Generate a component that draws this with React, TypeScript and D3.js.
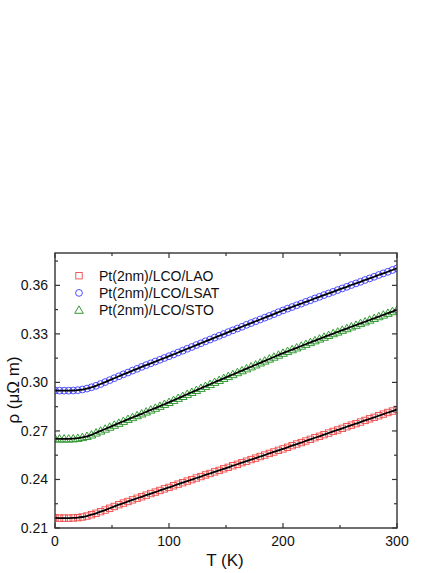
import React from "react";
import * as d3 from "d3";

// temperature grid (K)
const temps = [
  0, 4, 8, 12, 16, 20, 24, 28, 32, 36, 40, 44, 48, 52, 56, 60, 64, 68, 72, 76,
  80, 84, 88, 92, 96, 100, 104, 108, 112, 116, 120, 124, 128, 132, 136, 140,
  144, 148, 152, 156, 160, 164, 168, 172, 176, 180, 184, 188, 192, 196, 200,
  204, 208, 212, 216, 220, 224, 228, 232, 236, 240, 244, 248, 252, 256, 260,
  264, 268, 272, 276, 280, 284, 288, 292, 296, 300,
];

// resistivity (µΩ m)
const rhoLAO = [
  0.2162, 0.2161, 0.2161, 0.2161, 0.2162, 0.2164, 0.2168, 0.2174, 0.2182, 0.2191,
  0.2201, 0.2211, 0.2222, 0.2233, 0.2244, 0.2254, 0.2264, 0.2274, 0.2284, 0.2293,
  0.2303, 0.2313, 0.2322, 0.2332, 0.2342, 0.2351, 0.2361, 0.2371, 0.238, 0.239,
  0.2399, 0.2409, 0.2418, 0.2428, 0.2437, 0.2447, 0.2456, 0.2466, 0.2475, 0.2485,
  0.2494, 0.2504, 0.2513, 0.2523, 0.2532, 0.2542, 0.2551, 0.2561, 0.257, 0.258,
  0.2589, 0.2599, 0.2609, 0.2619, 0.2628, 0.2638, 0.2648, 0.2658, 0.2667, 0.2677,
  0.2687, 0.2697, 0.2706, 0.2716, 0.2726, 0.2736, 0.2745, 0.2755, 0.2765, 0.2775,
  0.2784, 0.2794, 0.2804, 0.2814, 0.2823, 0.2833,
];

const rhoLSAT = [
  0.295, 0.2949, 0.2949, 0.2949, 0.295, 0.2952, 0.2956, 0.2962, 0.297, 0.2979,
  0.299, 0.3002, 0.3014, 0.3026, 0.3038, 0.305, 0.3061, 0.3073, 0.3084, 0.3096,
  0.3107, 0.3118, 0.3129, 0.314, 0.3151, 0.3162, 0.3173, 0.3185, 0.3196, 0.3208,
  0.3219, 0.3231, 0.3242, 0.3254, 0.3265, 0.3277, 0.3288, 0.3299, 0.3311, 0.3322,
  0.3333, 0.3344, 0.3356, 0.3367, 0.3378, 0.3389, 0.34, 0.3411, 0.3422, 0.3434,
  0.3445, 0.3456, 0.3466, 0.3477, 0.3487, 0.3498, 0.3508, 0.3519, 0.3529, 0.354,
  0.355, 0.356, 0.3571, 0.3581, 0.3591, 0.3602, 0.3612, 0.3622, 0.3633, 0.3643,
  0.3653, 0.3664, 0.3674, 0.3684, 0.3695, 0.3705,
];

const rhoSTO = [
  0.2652, 0.2651, 0.2651, 0.2651, 0.2652, 0.2655, 0.266, 0.2667, 0.2676, 0.2688,
  0.27, 0.2712, 0.2724, 0.2736, 0.2748, 0.276, 0.2772, 0.2783, 0.2795, 0.2806,
  0.2818, 0.283, 0.2841, 0.2853, 0.2865, 0.2877, 0.2889, 0.2902, 0.2914, 0.2927,
  0.2939, 0.2951, 0.2964, 0.2976, 0.2988, 0.3001, 0.3013, 0.3025, 0.3037, 0.3049,
  0.3061, 0.3073, 0.3085, 0.3097, 0.3109, 0.3121, 0.3133, 0.3145, 0.3157, 0.3169,
  0.3181, 0.3192, 0.3203, 0.3214, 0.3225, 0.3236, 0.3247, 0.3258, 0.3269, 0.328,
  0.3291, 0.3302, 0.3312, 0.3323, 0.3333, 0.3344, 0.3354, 0.3365, 0.3375, 0.3386,
  0.3396, 0.3407, 0.3417, 0.3428, 0.3438, 0.3449,
];

const seriesNames = ["Pt(2nm)/LCO/LAO", "Pt(2nm)/LCO/LSAT", "Pt(2nm)/LCO/STO"];
const seriesColors = ["#f04848", "#3a3aff", "#1f8f1f"];
const seriesShapes = ["square", "circle", "triangle"];
const seriesValues = [rhoLAO, rhoLSAT, rhoSTO];

const xMajor = [0, 100, 200, 300];
const xMinor = [50, 150, 250];
const yMajor = [0.21, 0.24, 0.27, 0.3, 0.33, 0.36];
const yMinor = [0.225, 0.255, 0.285, 0.315, 0.345, 0.375];

const W = 443;
const H = 573;
const left = 55;
const right = 397;
const top = 253;
const bottom = 528;
const font = "'Liberation Sans', Arial, sans-serif";

const x = d3.scaleLinear().domain([0, 300]).range([left, right]);
const y = d3.scaleLinear().domain([0.21, 0.38]).range([bottom, top]);

const Marker = ({ shape, cx, cy, color }) => {
  if (shape === "square")
    return (
      <rect x={cx - 3.2} y={cy - 3.2} width={6.4} height={6.4} fill="none" stroke={color} strokeWidth={0.9} />
    );
  if (shape === "circle")
    return <circle cx={cx} cy={cy} r={3.4} fill="none" stroke={color} strokeWidth={0.9} />;
  const s = d3.symbol(d3.symbolTriangle, 32)();
  return <path d={s} transform={`translate(${cx},${cy + 0.7})`} fill="none" stroke={color} strokeWidth={0.9} />;
};

export default function App() {
  const line = d3
    .line<number>()
    .x((_, i) => x(temps[i]))
    .y((d) => y(d))
    .curve(d3.curveMonotoneX);

  const axisColor = "#333";
  return (
    <svg width={W} height={H} style={{ position: "absolute", left: 0, top: 0, background: "#fff" }}>
      <defs>
        <clipPath id="plot">
          <rect x={left} y={top} width={right - left} height={bottom - top} />
        </clipPath>
      </defs>

      <g clipPath="url(#plot)">
        {seriesValues.map((vals, si) => (
          <g key={si}>
            {vals.map((v, i) => (
              <Marker key={i} shape={seriesShapes[si]} cx={x(temps[i])} cy={y(v)} color={seriesColors[si]} />
            ))}
          </g>
        ))}
        {seriesValues.map((vals, si) => (
          <path key={si} d={line(vals) || ""} fill="none" stroke="#000" strokeWidth={1.8} />
        ))}
      </g>

      {/* frame */}
      <rect x={left} y={top} width={right - left} height={bottom - top} fill="none" stroke={axisColor} strokeWidth={1.4} />

      {/* x ticks, bottom and top, inward */}
      {xMajor.map((t) => (
        <g key={"xM" + t}>
          <line x1={x(t)} x2={x(t)} y1={bottom} y2={bottom - 5} stroke={axisColor} strokeWidth={1.2} />
          <line x1={x(t)} x2={x(t)} y1={top} y2={top + 5} stroke={axisColor} strokeWidth={1.2} />
          <text x={x(t)} y={546} textAnchor="middle" fontFamily={font} fontSize={14} fill="#111">
            {t}
          </text>
        </g>
      ))}
      {xMinor.map((t) => (
        <g key={"xm" + t}>
          <line x1={x(t)} x2={x(t)} y1={bottom} y2={bottom - 3} stroke={axisColor} strokeWidth={1.2} />
          <line x1={x(t)} x2={x(t)} y1={top} y2={top + 3} stroke={axisColor} strokeWidth={1.2} />
        </g>
      ))}

      {/* y ticks, left and right, inward */}
      {yMajor.map((t) => (
        <g key={"yM" + t}>
          <line x1={left} x2={left + 5} y1={y(t)} y2={y(t)} stroke={axisColor} strokeWidth={1.2} />
          <line x1={right} x2={right - 5} y1={y(t)} y2={y(t)} stroke={axisColor} strokeWidth={1.2} />
          <text x={48} y={y(t) + 5} textAnchor="end" fontFamily={font} fontSize={14} fill="#111">
            {t.toFixed(2)}
          </text>
        </g>
      ))}
      {yMinor.map((t) => (
        <g key={"ym" + t}>
          <line x1={left} x2={left + 3} y1={y(t)} y2={y(t)} stroke={axisColor} strokeWidth={1.2} />
          <line x1={right} x2={right - 3} y1={y(t)} y2={y(t)} stroke={axisColor} strokeWidth={1.2} />
        </g>
      ))}

      {/* axis titles */}
      <text x={225} y={566} textAnchor="middle" fontFamily={font} fontSize={17} fill="#111">
        T (K)
      </text>
      <text
        transform="translate(19,390) rotate(-90)"
        textAnchor="middle"
        fontFamily={font}
        fontSize={17}
        fill="#111"
      >
        ρ (μΩ m)
      </text>

      {/* legend */}
      {seriesNames.map((name, i) => {
        const ly = 275.7 + i * 17.2;
        return (
          <g key={name}>
            <Marker shape={seriesShapes[i]} cx={79} cy={ly} color={seriesColors[i]} />
            <text x={99} y={ly + 5} fontFamily={font} fontSize={14} fill="#111">
              {name}
            </text>
          </g>
        );
      })}
    </svg>
  );
}
